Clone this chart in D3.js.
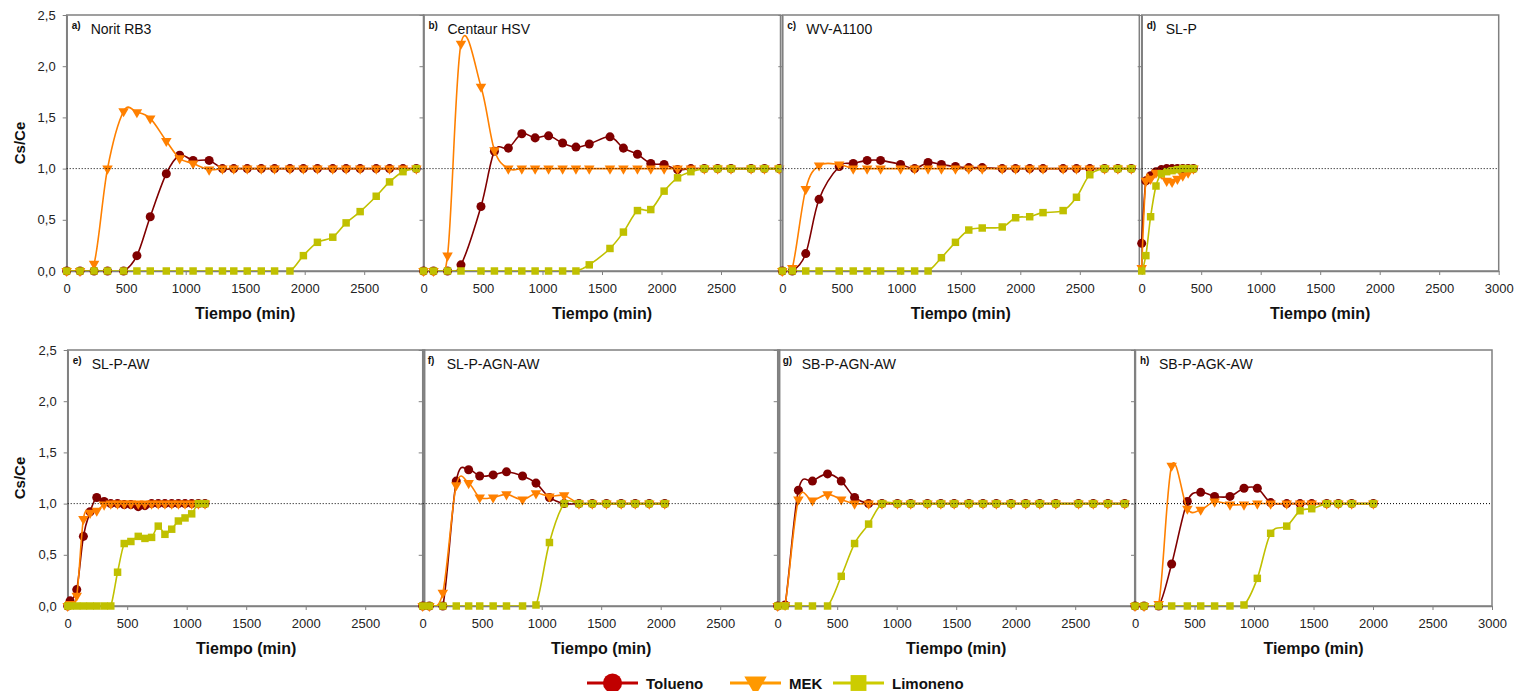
<!DOCTYPE html>
<html lang="en">
<head>
<meta charset="UTF-8">
<script src="https://d3js.org/d3.v7.min.js"></script>
<title>Cs/Ce vs Tiempo</title>
<style>
    body { margin: 0; background: #fff; }
    svg { font-family: "Liberation Sans", Arial, sans-serif; }
</style>
</head>
<body>
<svg id="chart" width="1514" height="691"></svg>
<script>

// ---- data ----
const panelLetters = ["a)", "b)", "c)", "d)", "e)", "f)", "g)", "h)"];
const panelNames = ["Norit RB3", "Centaur HSV", "WV-A1100", "SL-P", "SL-P-AW", "SL-P-AGN-AW", "SB-P-AGN-AW", "SB-P-AGK-AW"];
const seriesNames = ["Tolueno", "MEK", "Limoneno"];
const xTicks = [0, 500, 1000, 1500, 2000, 2500, 3000];
const yTicks = [0, 0.5, 1.0, 1.5, 2.0, 2.5];

// a) Norit RB3
const timeA = [0, 112, 230, 343, 478, 590, 702, 837, 949, 1062, 1197, 1309, 1404, 1517, 1635, 1747, 1876, 1989, 2107, 2236, 2348, 2466, 2601, 2713, 2826, 2938];
const tolA = [0, 0, 0, 0, 0, 0.15, 0.53, 0.95, 1.13, 1.08, 1.08, 1, 1, 1, 1, 1, 1, 1, 1, 1, 1, 1, 1, 1, 1, 1];
const mekA = [0, 0, 0.07, 1.0, 1.56, 1.55, 1.49, 1.27, 1.10, 1.05, 0.99, 1, 1, 1, 1, 1, 1, 1, 1, 1, 1, 1, 1, 1, 1, 1];
const limA = [0, 0, 0, 0, 0, 0, 0, 0, 0, 0, 0, 0, 0, 0, 0, 0, 0, 0.15, 0.28, 0.33, 0.47, 0.58, 0.73, 0.87, 0.97, 1.0];

// b) Centaur HSV
const timeB = [0, 84, 202, 315, 483, 596, 713, 826, 938, 1051, 1169, 1281, 1393, 1567, 1680, 1798, 1910, 2022, 2135, 2247, 2360, 2472, 2584, 2753, 2865, 2989];
const tolB = [0, 0, 0, 0.06, 0.63, 1.17, 1.2, 1.34, 1.3, 1.32, 1.25, 1.21, 1.24, 1.31, 1.2, 1.14, 1.05, 1.04, 0.99, 1, 1, 1, 1, 1, 1, 1];
const mekB = [0, 0, 0.15, 2.22, 1.8, 1.18, 1.0, 1, 1, 1, 1, 1, 1, 1, 1, 1, 1, 1, 1, 1, 1, 1, 1, 1, 1, 1];
const limB = [0, 0, 0, 0, 0, 0, 0, 0, 0, 0, 0, 0, 0.06, 0.22, 0.38, 0.59, 0.6, 0.78, 0.91, 0.97, 1, 1, 1, 1, 1, 1];

// c) WV-A1100
const timeC = [0, 84, 197, 309, 478, 596, 713, 826, 994, 1112, 1225, 1337, 1455, 1567, 1680, 1848, 1961, 2079, 2191, 2360, 2472, 2584, 2708, 2820, 2933];
const tolC = [0, 0, 0.17, 0.7, 1.02, 1.05, 1.08, 1.08, 1.04, 1.0, 1.06, 1.04, 1.02, 1.01, 1.01, 1, 1, 1, 1, 1, 1, 1, 1, 1, 1];
const mekC = [0, 0.03, 0.8, 1.03, 1.04, 1, 1, 1, 1, 1, 1, 1, 1, 1, 1, 1, 1, 1, 1, 1, 1, 1, 1, 1, 1];
const limC = [0, 0, 0, 0, 0, 0, 0, 0, 0, 0, 0, 0.13, 0.28, 0.4, 0.42, 0.43, 0.52, 0.53, 0.57, 0.59, 0.72, 0.94, 1, 1, 1];

// d) SL-P
const timeD = [0, 35, 75, 120, 165, 210, 255, 300, 345, 390, 435];
const tolD = [0.27, 0.88, 0.93, 0.97, 0.99, 1, 1, 1, 1, 1, 1];
const mekD = [0.03, 0.88, 0.9, 0.96, 0.95, 0.88, 0.87, 0.9, 0.93, 0.96, 1.0];
const limD = [0, 0.15, 0.53, 0.83, 0.95, 0.97, 0.98, 0.99, 1, 1, 1];

// e) SL-P-AW
const timeE = [0, 20, 76, 132, 188, 244, 306, 362, 419, 475, 531, 593, 649, 705, 761, 817, 874, 930, 986, 1042, 1098, 1154];
const tolE = [0, 0.05, 0.16, 0.68, 0.92, 1.06, 1.02, 1, 1, 0.99, 0.99, 0.97, 0.98, 1, 1, 1, 1, 1, 1, 1, 1, 1];
const mekE = [0, 0.02, 0.1, 0.85, 0.91, 0.93, 0.99, 1, 1, 1, 1, 1, 1, 1, 1, 1, 1, 1, 1, 1, 1, 1];
const limE = [0, 0, 0, 0, 0, 0, 0, 0, 0.33, 0.61, 0.63, 0.68, 0.66, 0.67, 0.78, 0.7, 0.75, 0.83, 0.86, 0.9, 1, 1];

// f) SL-P-AGN-AW
const timeF = [0, 56, 169, 282, 386, 479, 592, 704, 839, 952, 1065, 1189, 1313, 1425, 1544, 1668, 1786, 1904, 2034];
const tolF = [0, 0, 0, 1.22, 1.33, 1.27, 1.28, 1.31, 1.27, 1.2, 1.06, 1, 1, 1, 1, 1, 1, 1, 1];
const mekF = [0, 0, 0.13, 1.18, 1.2, 1.06, 1.06, 1.09, 1.04, 1.1, 1.07, 1.08, 1, 1, 1, 1, 1, 1, 1];
const limF = [0, 0, 0, 0, 0, 0, 0, 0, 0, 0.01, 0.62, 1, 1, 1, 1, 1, 1, 1, 1];

// g) SB-P-AGN-AW
const timeG = [0, 62, 174, 292, 419, 534, 646, 764, 876, 1006, 1118, 1258, 1371, 1483, 1607, 1725, 1837, 1961, 2084, 2202, 2337, 2528, 2652, 2775, 2916];
const tolG = [0, 0.01, 1.13, 1.22, 1.29, 1.22, 1.06, 1, 1, 1, 1, 1, 1, 1, 1, 1, 1, 1, 1, 1, 1, 1, 1, 1, 1];
const mekG = [0, 0.01, 1.04, 1.03, 1.09, 1.04, 1, 1, 1, 1, 1, 1, 1, 1, 1, 1, 1, 1, 1, 1, 1, 1, 1, 1, 1];
const limG = [0, 0, 0, 0, 0, 0.29, 0.61, 0.8, 1, 1, 1, 1, 1, 1, 1, 1, 1, 1, 1, 1, 1, 1, 1, 1, 1];

// h) SB-P-AGK-AW
const timeH = [0, 76, 199, 308, 440, 552, 669, 798, 916, 1028, 1140, 1275, 1387, 1485, 1611, 1709, 1821, 2003];
const tolH = [0, 0, 0, 0.41, 1.02, 1.11, 1.07, 1.07, 1.15, 1.15, 1.01, 1, 1, 1, 1, 1, 1, 1];
const mekH = [0, 0, 0.02, 1.37, 0.95, 0.94, 1.02, 0.99, 0.99, 1, 1, 1, 1, 1, 1, 1, 1, 1];
const limH = [0, 0, 0, 0, 0, 0, 0, 0, 0.01, 0.27, 0.71, 0.78, 0.93, 0.95, 1, 1, 1, 1];

const times = [timeA, timeB, timeC, timeD, timeE, timeF, timeG, timeH];
const tolueno = [tolA, tolB, tolC, tolD, tolE, tolF, tolG, tolH];
const mek = [mekA, mekB, mekC, mekD, mekE, mekF, mekG, mekH];
const limoneno = [limA, limB, limC, limD, limE, limF, limG, limH];

// ---- look ----
const lineColors = ["#800000", "#ff8000", "#c0c000"];
const legendColors = ["#c00000", "#ff9900", "#cccc00"];
const symbolTypes = [d3.symbolCircle, d3.symbolTriangle, d3.symbolSquare];
const symbolSizes = [64, 48, 56];
const frameColor = "#808080";

// panel boxes (left, top), each 357 x 256
const pw = 357, ph = 256;
const panelPos = [
    [66.7, 15], [423.5, 15], [782.3, 15], [1141.7, 15],
    [67.7, 350], [422.7, 350], [777.7, 350], [1135, 350]
];

const locale = d3.formatLocale({ decimal: ",", thousands: ".", grouping: [3], currency: ["", ""] });
const yFmt = locale.format(".1f");
const xFmt = d3.format("d");

const svg = d3.select("#chart");

const x = d3.scaleLinear().domain([0, 3000]).range([0, pw]);
const y = d3.scaleLinear().domain([0, 2.5]).range([ph, 0]);

const line = d3.line()
    .x(d => x(d.t))
    .y(d => y(d.v))
    .curve(d3.curveCardinal.tension(0));

// one clip for the plot area, lines only (markers spill over like in excel)
svg.append("defs").append("clipPath")
    .attr("id", "plotclip")
    .append("rect")
    .attr("x", -2).attr("y", 0)
    .attr("width", pw + 4).attr("height", ph);

function drawPanel(i) {
    const [px, py] = panelPos[i];
    const col = i % 4;
    const g = svg.append("g").attr("transform", `translate(${px},${py})`);

    // frame
    g.append("rect")
        .attr("width", pw).attr("height", ph)
        .attr("fill", "none")
        .attr("stroke", frameColor)
        .attr("stroke-width", 1.5);

    // y axis
    const yAxis = g.append("g")
        .call(d3.axisLeft(y).tickValues(yTicks).tickSize(4).tickSizeOuter(0).tickPadding(7)
            .tickFormat(col === 0 ? yFmt : ""));
    // x axis
    const xAxis = g.append("g")
        .attr("transform", `translate(0,${ph})`)
        .call(d3.axisBottom(x).tickValues(col === 3 ? xTicks : xTicks.slice(0, -1))
            .tickSize(4).tickSizeOuter(0).tickPadding(9).tickFormat(xFmt));

    [yAxis, xAxis].forEach(ax => {
        ax.select(".domain").attr("stroke", frameColor).attr("stroke-width", 1.5);
        ax.selectAll(".tick line").attr("stroke", frameColor);
        ax.selectAll(".tick text")
            .attr("font-size", 13)
            .attr("fill", "#222")
            .attr("font-family", "'Liberation Sans', Arial, sans-serif");
    });

    // axis titles
    g.append("text")
        .attr("x", pw / 2).attr("y", ph + 48)
        .attr("text-anchor", "middle")
        .attr("font-size", 16).attr("font-weight", "bold")
        .attr("fill", "#111")
        .text("Tiempo (min)");
    if (col === 0) {
        g.append("text")
            .attr("transform", `translate(${20 - px},${ph / 2}) rotate(-90)`)
            .attr("text-anchor", "middle")
            .attr("dominant-baseline", "central")
            .attr("font-size", 15).attr("font-weight", "bold")
            .attr("fill", "#111")
            .text("Cs/Ce");
    }

    // series
    const vals = [tolueno[i], mek[i], limoneno[i]];
    vals.forEach((arr, s) => {
        const pts = arr.map((v, k) => ({ t: times[i][k], v: v }));
        g.append("path")
            .attr("d", line(pts))
            .attr("clip-path", "url(#plotclip)")
            .attr("fill", "none")
            .attr("stroke", lineColors[s])
            .attr("stroke-width", 1.6);
        g.selectAll(null)
            .data(pts)
            .join("path")
            .attr("d", d3.symbol().type(symbolTypes[s]).size(symbolSizes[s]))
            .attr("transform", d => `translate(${x(d.t)},${y(d.v)})` + (s === 1 ? " rotate(180)" : ""))
            .attr("fill", lineColors[s]);
    });

    // reference line at Cs/Ce = 1
    g.append("line")
        .attr("x1", 0).attr("x2", pw)
        .attr("y1", y(1)).attr("y2", y(1))
        .attr("stroke", "#000")
        .attr("stroke-width", 1)
        .attr("stroke-dasharray", "1,2");

    // panel labels
    g.append("text")
        .attr("x", 5).attr("y", 14)
        .attr("font-size", 10).attr("font-weight", "bold")
        .attr("fill", "#111")
        .text(panelLetters[i]);
    g.append("text")
        .attr("x", 24).attr("y", 19)
        .attr("font-size", 14)
        .attr("fill", "#111")
        .text(panelNames[i]);
}

for (let i = 0; i < 8; i++) drawPanel(i);

// legend
const legendX = [587, 730, 833];
const legendY = 683;
const legend = svg.append("g");
seriesNames.forEach((name, s) => {
    const lg = legend.append("g").attr("transform", `translate(${legendX[s]},${legendY})`);
    lg.append("line")
        .attr("x1", 0).attr("x2", 51)
        .attr("stroke", legendColors[s]).attr("stroke-width", 3);
    lg.append("path")
        .attr("d", d3.symbol().type(symbolTypes[s]).size(symbolSizes[s] * 4.5))
        .attr("transform", `translate(25.5,0)` + (s === 1 ? " rotate(180)" : ""))
        .attr("fill", legendColors[s]);
    lg.append("text")
        .attr("x", 59).attr("y", 0)
        .attr("dominant-baseline", "central")
        .attr("font-size", 15).attr("font-weight", "bold")
        .attr("fill", "#111")
        .text(name);
});

</script>
</body>
</html>
